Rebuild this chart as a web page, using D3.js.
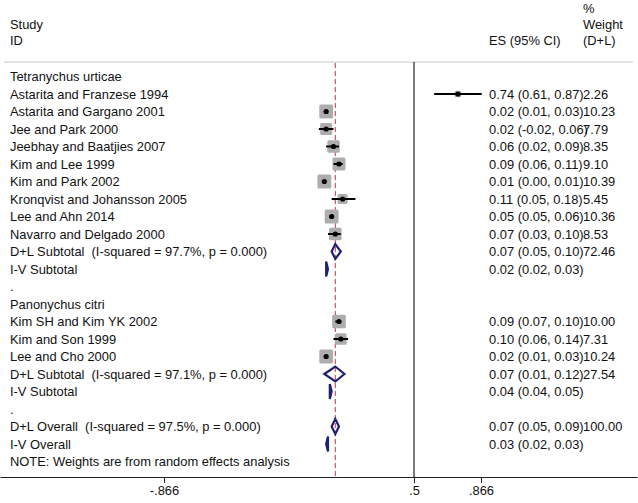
<!DOCTYPE html>
<html><head><meta charset="utf-8">
<script src="https://cdn.jsdelivr.net/npm/d3@7"></script>
<style>
html,body{margin:0;padding:0;background:#fff;}
svg text{font-family:"Liberation Sans",Arial,sans-serif;font-size:12.9px;fill:#111;white-space:pre;}
</style></head>
<body><svg id="chart" width="638" height="503"></svg>
<script>
const labels = [
 "Tetranychus urticae",
 "Astarita and Franzese 1994",
 "Astarita and Gargano 2001",
 "Jee and Park 2000",
 "Jeebhay and Baatjies 2007",
 "Kim and Lee 1999",
 "Kim and Park 2002",
 "Kronqvist and Johansson 2005",
 "Lee and Ahn 2014",
 "Navarro and Delgado 2000",
 "D+L Subtotal  (I-squared = 97.7%, p = 0.000)",
 "I-V Subtotal",
 ".",
 "Panonychus citri",
 "Kim SH and Kim YK 2002",
 "Kim and Son 1999",
 "Lee and Cho 2000",
 "D+L Subtotal  (I-squared = 97.1%, p = 0.000)",
 "I-V Subtotal",
 ".",
 "D+L Overall  (I-squared = 97.5%, p = 0.000)",
 "I-V Overall",
 "NOTE: Weights are from random effects analysis"
];
const kinds = ["group","study","study","study","study","study","study","study","study","study","pooled","pooled","blank",
 "group","study","study","study","pooled","pooled","blank","pooled","pooled","note"];
const esVals = [null,0.74,0.02,0.02,0.06,0.09,0.01,0.11,0.05,0.07,0.07,0.02,null,null,0.09,0.10,0.02,0.07,0.04,null,0.07,0.03,null];
const ciLow  = [null,0.61,0.01,-0.02,0.02,0.06,0.00,0.05,0.05,0.03,0.05,0.02,null,null,0.07,0.06,0.01,0.01,0.04,null,0.05,0.02,null];
const ciHigh = [null,0.87,0.03,0.06,0.09,0.11,0.01,0.18,0.06,0.10,0.10,0.03,null,null,0.10,0.14,0.03,0.12,0.05,null,0.09,0.03,null];
const weights = [null,2.26,10.23,7.79,8.35,9.10,10.39,5.45,10.36,8.53,72.46,null,null,null,10.00,7.31,10.24,27.54,null,null,100.00,null,null];
const overallES = 0.07;
const nullValue = 0.5;
const tickValues = [-0.866, 0.5, 0.866];
const tickLabels = ["-.866", ".5", ".866"];

const svg = d3.select("#chart");
const x = d3.scaleLinear().domain([-0.866, 0.866]).range([164, 481]);
const rowIdx = d3.range(labels.length);
const y = d3.scalePoint().domain(rowIdx).range([76.5, 76.5 + 17.5*(labels.length-1)]);
const axisY = 477, topY = 62;
const f2v = d3.format(".2f");
const f2 = v => f2v(v).replace("\u2212", "-");

// header
const hdr = svg.append("g");
hdr.append("text").attr("x",10).attr("y",29).text("Study");
hdr.append("text").attr("x",10).attr("y",45).text("ID");
hdr.append("text").attr("x",489).attr("y",45).text("ES (95% CI)");
hdr.append("text").attr("x",583).attr("y",13).text("%");
hdr.append("text").attr("x",583).attr("y",29).text("Weight");
hdr.append("text").attr("x",583).attr("y",45).text("(D+L)");
svg.append("line").attr("x1",4).attr("x2",633).attr("y1",topY).attr("y2",topY)
  .attr("stroke","#c8c8c8").attr("stroke-width",1);

// reference lines
svg.append("line").attr("x1",x(nullValue)).attr("x2",x(nullValue)).attr("y1",topY).attr("y2",axisY)
  .attr("stroke","#222").attr("stroke-width",1.2);
svg.append("line").attr("x1",x(overallES)).attr("x2",x(overallES)).attr("y1",topY+1).attr("y2",axisY)
  .attr("stroke","#cc4450").attr("stroke-width",1.1).attr("stroke-dasharray","5,3");

// labels
svg.append("g").selectAll("text").data(rowIdx).join("text")
  .attr("x",10).attr("y",i=>y(i)+4.6).text(i=>labels[i]);

// ES text
svg.append("g").selectAll("text").data(rowIdx.filter(i=>esVals[i]!==null)).join("text")
  .attr("x",489).attr("y",i=>y(i)+4.6)
  .text(i=>`${f2(esVals[i])} (${f2(ciLow[i])}, ${f2(ciHigh[i])})`);
svg.append("g").selectAll("text").data(rowIdx.filter(i=>weights[i]!==null)).join("text")
  .attr("x",583).attr("y",i=>y(i)+4.6).text(i=>f2(weights[i]));

// study boxes
const studies = rowIdx.filter(i=>kinds[i]==="study");
const side = w => 4.3*Math.sqrt(w);
svg.append("g").selectAll("rect").data(studies).join("rect")
  .attr("x",i=>x(esVals[i])-side(weights[i])/2).attr("y",i=>y(i)-side(weights[i])/2)
  .attr("width",i=>side(weights[i])).attr("height",i=>side(weights[i]))
  .attr("rx",1.5).attr("fill","#adadad");
svg.append("g").selectAll("line").data(studies).join("line")
  .attr("x1",i=>x(ciLow[i])).attr("x2",i=>x(ciHigh[i]))
  .attr("y1",i=>y(i)).attr("y2",i=>y(i)).attr("stroke","#000").attr("stroke-width",2);
svg.append("g").selectAll("circle").data(studies).join("circle")
  .attr("cx",i=>x(esVals[i])).attr("cy",i=>y(i)).attr("r",2.6).attr("fill","#000");

// pooled diamonds
const pooled = rowIdx.filter(i=>kinds[i]==="pooled");
const hh = 7.5;
svg.append("g").selectAll("path").data(pooled).join("path")
  .attr("d",i=>{const c=y(i);return `M${x(ciLow[i])},${c}L${x(esVals[i])},${c-hh}L${x(ciHigh[i])},${c}L${x(esVals[i])},${c+hh}Z`;})
  .attr("fill","none").attr("stroke","#1e2070").attr("stroke-width",2.2).attr("stroke-linejoin","miter");

// axis
const xAxisScale = x.copy().domain([x.invert(0), x.invert(637)]).range([0,637]);
const ax = svg.append("g").attr("transform",`translate(0,${axisY})`)
  .call(d3.axisBottom(xAxisScale).tickValues(tickValues).tickFormat((d,i)=>tickLabels[i]).tickSize(6).tickSizeOuter(0).tickPadding(3));
ax.select(".domain").attr("stroke","#222");
ax.selectAll(".tick line").attr("stroke","#222");
ax.selectAll(".tick text").style("font-size","12.9px").attr("fill","#111");
</script></body></html>
